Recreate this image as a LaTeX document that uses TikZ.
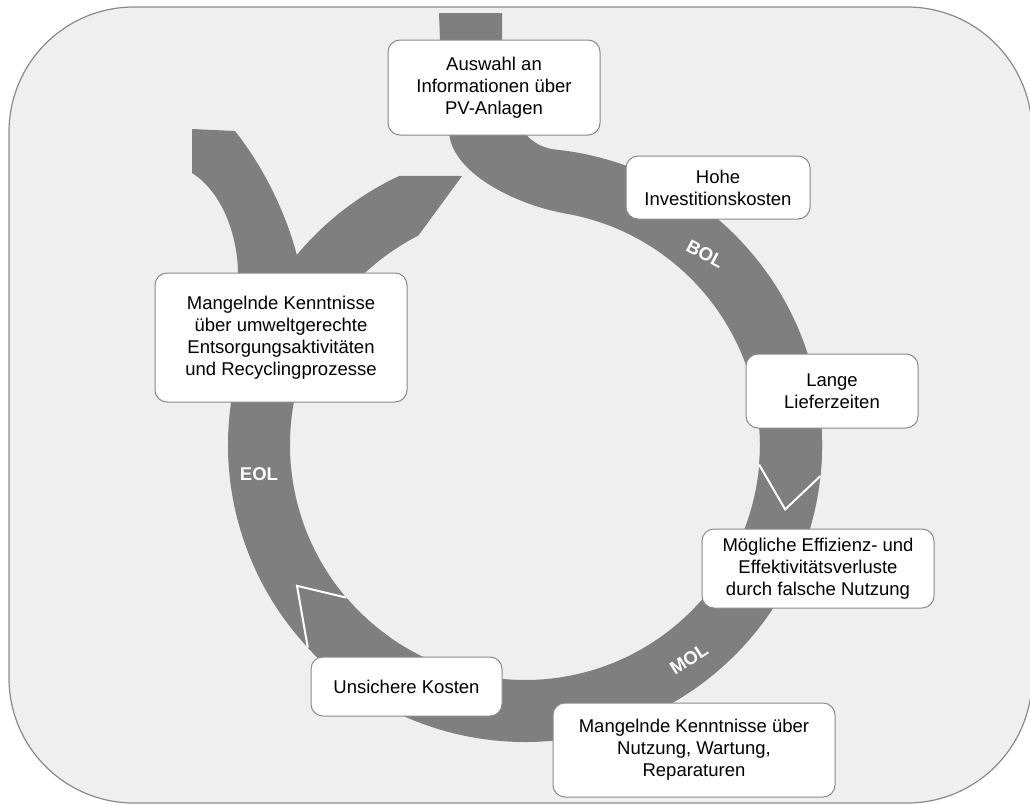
\documentclass[tikz,border=0pt]{standalone}
\usepackage{fontspec}
\setmainfont{Liberation Sans}
\usepackage{tikz}
\usetikzlibrary{calc}
\definecolor{ringgray}{HTML}{7F7F7F}
\definecolor{bggray}{HTML}{EFEFEF}
\definecolor{linegray}{HTML}{8A8A8A}
\tikzstyle{box} = [draw=linegray, line width=1pt, fill=white, rounded corners=12pt, align=center, inner sep=0pt, font=\fontsize{18.5}{22}\selectfont]
\tikzstyle{phase} = [text=white, inner sep=0pt, font=\fontsize{18.5}{20}\selectfont\bfseries]
\tikzstyle{tipline} = [draw=white, line width=2pt]

\begin{document}
\begin{tikzpicture}[x=1pt,y=-1pt]
\clip (0,0) rectangle (1030,804);
\draw[linegray, fill=bggray, line width=1.2pt, rounded corners=125pt] (9,7) rectangle (1032,803);
\coordinate (c) at (525,445);

% EOL
\fill[ringgray] ($(c)+(125:235)$) arc[start angle=125, end angle=243, radius=235] -- (462,176)
    -- ($(c)+(245:297)$) arc[start angle=245, end angle=219.8, radius=297]
    .. controls (285,210) and (262,165) .. (235,131) -- (192,129) -- (192,173)
    .. controls (222,192) and (238,235) .. (238,275)
    .. controls (238,320) and (234,360) .. ($(c)+(190:297)$) arc[start angle=190, end angle=125, radius=297] -- cycle;

% MOL
\fill[ringgray] ($(c)+(-10:297)$) arc[start angle=-10, end angle=137, radius=297] -- ($(c)+(148.3:268)$)
    -- ($(c)+(139.5:235)$) arc[start angle=139.5, end angle=-10, radius=235] -- cycle;
\draw[tipline] ($(c)+(137:297)$) -- ($(c)+(148.3:268)$) -- ($(c)+(139.5:235)$);

% BOL
\fill[ringgray] (439,13) -- (502,13) -- (502,40) .. controls (502,110) and (521,146) .. ($(c)+(-84:297)$)
    arc[start angle=-84, end angle=6, radius=297] -- ($(c)+(13.9:268)$)
    -- ($(c)+(4.8:235)$) arc[start angle=4.8, end angle=-80, radius=235]
    .. controls (516,205) and (449,172) .. (449,130) -- (440,40) -- cycle;
\draw[tipline] ($(c)+(6:297)$) -- ($(c)+(13.9:268)$) -- ($(c)+(4.8:235)$);

\node[box, minimum width=212pt, minimum height=95pt] (auswahl) at (494,87.5) {Auswahl an\\Informationen über\\PV-Anlagen};
\node[box, minimum width=184pt, minimum height=63pt] (hohe) at (718,187.5) {Hohe\\Investitionskosten};
\node[box, minimum width=172pt, minimum height=74pt] (lange) at (832,391) {Lange\\Lieferzeiten};
\node[box, minimum width=232pt, minimum height=79pt] (effizienz) at (818,568.5) {Mögliche Effizienz- und\\Effektivitätsverluste\\durch falsche Nutzung};
\node[box, minimum width=282pt, minimum height=94pt] (nutzung) at (694,750) {Mangelnde Kenntnisse über\\Nutzung, Wartung,\\Reparaturen};
\node[box, minimum width=191pt, minimum height=59pt] (kosten) at (406.5,686.5) {Unsichere Kosten};
\node[box, minimum width=252pt, minimum height=129pt] (entsorgung) at (281,337.5) {Mangelnde Kenntnisse\\über umweltgerechte\\Entsorgungsaktivitäten\\und Recyclingprozesse};

\node[phase, rotate=-28] (bol) at (705,254) {BOL};
\node[phase, rotate=33] (mol) at (689,659) {MOL};
\node[phase] (eol) at (259,474) {EOL};
\end{tikzpicture}
\end{document}
